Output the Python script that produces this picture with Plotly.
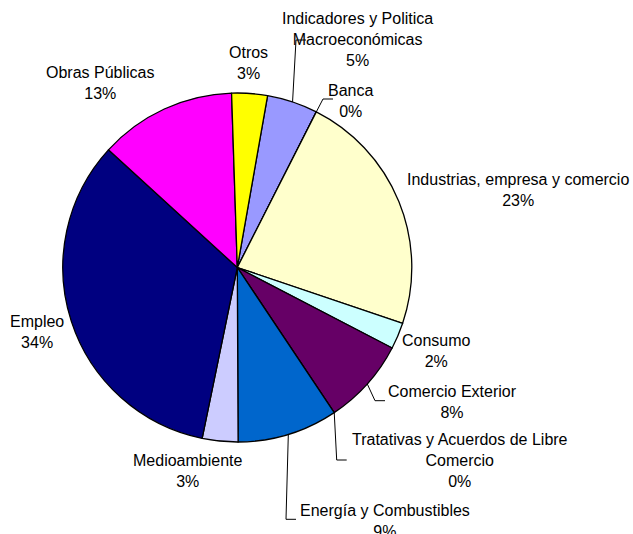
import math
import plotly.graph_objects as go

# Topic shares (percent) in plotting order, clockwise from the first slice
labels = [
    "Indicadores y Politica<br>Macroeconómicas",
    "Banca",
    "Industrias, empresa y comercio",
    "Consumo",
    "Comercio Exterior",
    "Tratativas y Acuerdos de Libre<br>Comercio",
    "Energía y Combustibles",
    "Medioambiente",
    "Empleo",
    "Obras Públicas",
    "Otros",
]
values = [4.7, 0.0, 22.7, 2.45, 8.0, 0.0, 9.3, 3.3, 33.55, 12.7, 3.3]
colors = ["#9999FF", "#993366", "#FFFFCC", "#CCFFFF", "#660066", "#FF8080",
          "#0066CC", "#CCCCFF", "#000080", "#FF00FF", "#FFFF00"]

W, H = 633, 534
CX, CY, R = 237.3, 267.5, 174.5   # pie centre and radius in pixels
ROTATION = 10.0                    # start angle of first slice, clockwise from 12 o'clock

# label block centres (px) and optional leader line (elbow, end) per slice
label_pos = [
    (357, 39.5), (350, 101.5), (518, 190.5), (436, 351), (452, 401.5),
    (460, 460), (385, 520.5), (188, 471), (37, 332), (100, 82.5), (248, 63),
]
leaders = {
    0: ((296, 40), (306, 40)),
    1: ((323, 99), (333, 99)),
    4: ((375, 400.7), (385, 400.7)),
    5: ((336.7, 460), (346.7, 460)),
    6: ((286, 519.3), (296, 519.3)),
}


def px(x):
    return x / W


def py(y):
    return 1 - y / H


total = sum(values)

fig = go.Figure(go.Pie(
    labels=labels,
    values=values,
    sort=False,
    direction="clockwise",
    rotation=ROTATION,
    textinfo="none",
    hoverinfo="label+percent",
    marker=dict(colors=colors, line=dict(color="#000000", width=1.3)),
    domain=dict(x=[px(CX - R), px(CX + R)], y=[py(CY + R), py(CY - R)]),
    showlegend=False,
))

annotations = []
shapes = []
cum = 0.0
for i, (lab, v) in enumerate(zip(labels, values)):
    mid = ROTATION + (cum + v / 2) / total * 360
    cum += v
    lx, ly = label_pos[i]
    pct = int(v / total * 100 + 0.5)
    annotations.append(dict(
        x=px(lx), y=py(ly), xref="paper", yref="paper",
        xanchor="center", yanchor="middle", showarrow=False, align="center",
        text=f"{lab}<br>{pct}%",
        font=dict(family="Liberation Sans, Arial, sans-serif", size=16, color="#000000"),
    ))
    if i in leaders:
        a = math.radians(mid)
        ax = CX + R * math.sin(a)
        ay = CY - R * math.cos(a)
        (ex, ey), (tx, ty) = leaders[i]
        shapes.append(dict(
            type="path", xref="paper", yref="paper",
            path=f"M {px(ax)} {py(ay)} L {px(ex)} {py(ey)} L {px(tx)} {py(ty)}",
            line=dict(color="#000000", width=1),
        ))

fig.update_layout(
    width=W, height=H,
    margin=dict(l=0, r=0, t=0, b=0),
    paper_bgcolor="#FFFFFF",
    plot_bgcolor="#FFFFFF",
    annotations=annotations,
    shapes=shapes,
)

fig.write_html("out.html")
